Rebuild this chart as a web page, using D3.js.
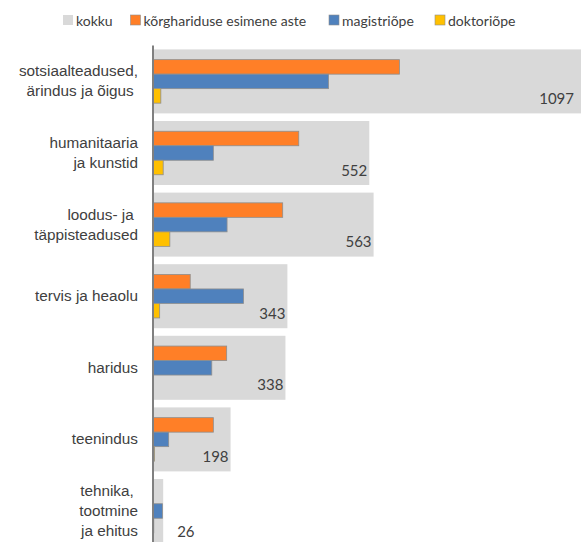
<!DOCTYPE html>
<html>
<head>
<meta charset="utf-8">
<script src="https://cdn.jsdelivr.net/npm/d3@7"></script>
<style>
  html, body { margin: 0; padding: 0; background: #fff; }
  svg { display: block; font-family: Lato, "Open Sans", sans-serif; }
  text { white-space: pre; }
</style>
</head>
<body>
<svg id="chart" width="581" height="542"></svg>
<script>
// ---- data ----
const categories = [
  ["sotsiaalteadused,", "ärindus ja õigus "],
  ["humanitaaria", "ja kunstid"],
  ["loodus- ja ", "täppisteadused"],
  ["tervis ja heaolu"],
  ["haridus"],
  ["teenindus"],
  ["tehnika, ", "tootmine", "ja ehitus"]
];
const seriesNames = ["kokku", "kõrghariduse esimene aste", "magistriõpe", "doktoriõpe"];
const totals   = [1097, 552, 563, 343, 338, 198, 26];
const esimene  = [629, 372, 331, 95, 188, 154, 0];
const magister = [448, 154, 189, 231, 150, 40, 24];
const doktor   = [20, 26, 43, 17, 0, 4, 2];
const colors = ["#d9d9d9", "#ff7f27", "#4f81bd", "#ffc000"];

// ---- layout ----
const svg = d3.select("#chart");
const W = 581, H = 542;
const x0 = 153;
const x = d3.scaleLinear().domain([0, 1100]).range([x0, 584]);
const catIds = categories.map((c, i) => i);
const y = d3.scaleBand().domain(catIds).range([45.6, 546.8])
  .paddingInner(0.106).paddingOuter(0.053);
const subKeys = ["esimene", "magister", "doktor"];
const subVals = { esimene, magister, doktor };
const subColor = { esimene: colors[1], magister: colors[2], doktor: colors[3] };
const subH = 43.5;
const sub = d3.scaleBand().domain(subKeys)
  .range([y.bandwidth() / 2 - subH / 2, y.bandwidth() / 2 + subH / 2]);

const g = svg.append("g");

// grey total bars
g.selectAll("rect.total").data(totals).join("rect")
  .attr("class", "total")
  .attr("x", x(0))
  .attr("y", (d, i) => y(i))
  .attr("width", d => x(d) - x(0))
  .attr("height", y.bandwidth())
  .attr("fill", colors[0]);

// sub bars
subKeys.forEach(k => {
  g.selectAll("rect." + k).data(subVals[k]).join("rect")
    .attr("class", k)
    .attr("x", x(0))
    .attr("y", (d, i) => y(i) + sub(k))
    .attr("width", d => Math.max(0, x(d) - x(0)))
    .attr("height", sub.bandwidth())
    .attr("fill", subColor[k])
    .attr("stroke", d => d > 0 ? "#8e8e8e" : "none")
    .attr("stroke-width", 0.8);
});

// value labels
g.selectAll("text.val").data(totals).join("text")
  .attr("class", "val")
  .attr("font-size", 15)
  .attr("fill", "#404040")
  .each(function (d, i) {
    const t = d3.select(this);
    const end = Math.min(x(d), 576);
    const cy = y(i) + y.bandwidth() / 2;
    if (x(d) - x(0) < 40) {
      t.attr("x", x(d) + 14).attr("y", cy + 26).attr("text-anchor", "start");
    } else {
      t.attr("x", end - 2).attr("y", cy + 22.5).attr("text-anchor", "end");
    }
  })
  .text(d => d);

// axis
const axis = d3.axisLeft(y).tickSize(0).tickPadding(15).tickFormat(() => "");
const ax = svg.append("g").attr("transform", `translate(${x0},0)`).call(axis);
ax.select(".domain").attr("stroke", "#808080").attr("stroke-width", 2)
  .attr("d", `M0,${45.6}V${H}`);
ax.selectAll(".tick text").remove();
ax.selectAll(".tick").each(function (d) {
  const lines = categories[d];
  const t = d3.select(this).append("text")
    .attr("text-anchor", "end")
    .attr("font-size", 15.3)
    .attr("fill", "#404040")
    .attr("x", -15);
  const n = lines.length;
  lines.forEach((ln, j) => {
    t.append("tspan").attr("x", -15)
      .attr("y", 5 + (j - (n - 1) / 2) * 20)
      .text(ln);
  });
});

// legend
const legendX = [63, 130.5, 329, 435];
const lg = svg.append("g");
seriesNames.forEach((name, i) => {
  lg.append("rect")
    .attr("x", legendX[i]).attr("y", 15).attr("width", 10).attr("height", 10)
    .attr("fill", colors[i])
    .attr("stroke", i === 0 ? "none" : "#8e8e8e").attr("stroke-width", 0.6);
  lg.append("text")
    .attr("x", legendX[i] + 13).attr("y", 25.5)
    .attr("font-size", 14).attr("fill", "#404040")
    .text(name);
});
</script>
</body>
</html>
